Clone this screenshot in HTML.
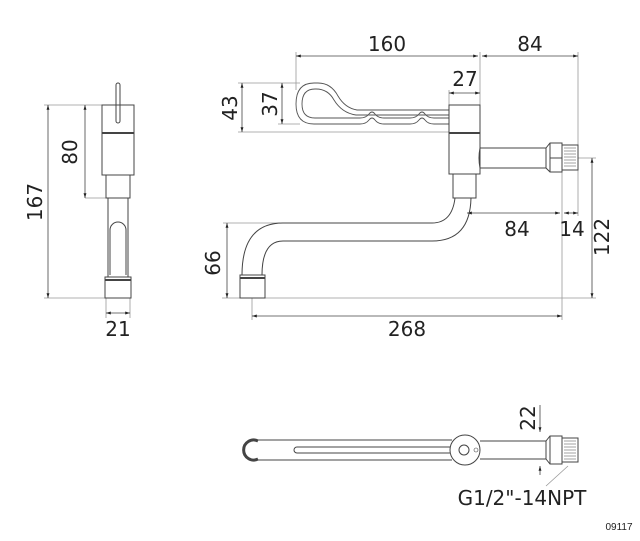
<!DOCTYPE html>
<html><head><meta charset="utf-8"><style>html,body{margin:0;padding:0;background:#fff}svg{display:block}</style></head>
<body>
<svg width="640" height="541" viewBox="0 0 640 541" xmlns="http://www.w3.org/2000/svg" font-family="'DejaVu Sans','Liberation Sans',sans-serif" fill="none">
<defs>
<marker id="a" viewBox="0 0 10 10" refX="10" refY="5" markerWidth="6" markerHeight="6" orient="auto-start-reverse"><path d="M0,2 L10,5 L0,8z" fill="#222"/></marker>
</defs>
<g stroke="#999" stroke-width="0.8">
<line x1="44" y1="105" x2="102" y2="105"/><line x1="44" y1="298" x2="105" y2="298"/>
<line x1="85" y1="198" x2="106" y2="198"/>
<line x1="106" y1="298" x2="106" y2="318"/><line x1="130" y1="298" x2="130" y2="318"/>
<line x1="296" y1="52" x2="296" y2="90"/><line x1="480" y1="52" x2="480" y2="105"/><line x1="578" y1="52" x2="578" y2="216"/>
<line x1="238" y1="83" x2="300" y2="83"/><line x1="238" y1="132" x2="449" y2="132"/><line x1="278" y1="124" x2="300" y2="124"/>
<line x1="449" y1="90" x2="449" y2="105"/>
<line x1="562" y1="172" x2="562" y2="320"/>
<line x1="578" y1="158" x2="596" y2="158"/>
<line x1="223" y1="223" x2="280" y2="223"/>
<line x1="222" y1="298" x2="596" y2="298"/>
<line x1="252" y1="298" x2="252" y2="320"/>
<line x1="568" y1="466" x2="546" y2="486"/>
</g>
<g stroke="#444" stroke-width="0.8" marker-start="url(#a)" marker-end="url(#a)">
<line x1="48" y1="105" x2="48" y2="298"/>
<line x1="85" y1="105" x2="85" y2="198"/>
<line x1="106" y1="313" x2="130" y2="313"/>
<line x1="296" y1="56" x2="478" y2="56"/>
<line x1="482" y1="56" x2="578" y2="56"/>
<line x1="242" y1="83" x2="242" y2="132"/>
<line x1="282" y1="83" x2="282" y2="124"/>
<line x1="449" y1="93" x2="480" y2="93"/>
<line x1="467" y1="213" x2="560" y2="213"/>
<line x1="564" y1="213" x2="578" y2="213"/>
<line x1="592" y1="158" x2="592" y2="298"/>
<line x1="227" y1="223" x2="227" y2="298"/>
<line x1="252" y1="316" x2="562" y2="316"/>
</g>
<g stroke="#444" stroke-width="0.8" marker-end="url(#a)">
<line x1="540" y1="405" x2="540" y2="432"/>
<line x1="540" y1="475" x2="540" y2="466"/>
</g>
<g stroke="#444" stroke-width="1">
<rect x="116" y="83" width="4" height="40" rx="2"/>
<rect x="102" y="105" width="32" height="70"/>
<line x1="102" y1="133" x2="134" y2="133" stroke-width="2"/>
<rect x="106" y="175" width="24" height="23"/>
<line x1="108" y1="198" x2="108" y2="277"/><line x1="128" y1="198" x2="128" y2="277"/>
<path d="M110,275 V230 A8,8 0 0 1 126,230 V275"/>
<rect x="105" y="277" width="26" height="21"/>
<line x1="105" y1="280" x2="131" y2="280" stroke-width="2"/>
</g>
<g stroke="#555" stroke-width="0.9">
<path d="M449,110 H357 Q345,108 338,96 Q331,83 318,83 H314 Q296,83 296,104 Q296,124 314,124 H360 Q366,124 369,120 Q372,116 375,120 Q378,124 384,124 H410 Q416,124 419,120 Q422,116 425,120 Q428,124 434,124 H449"/>
<path d="M449,115 H356 Q342,113 334,100 Q328,89 316,89 H315 Q302,89 302,104 Q302,118 315,118 H360 Q366,118 369,114 Q372,110 375,114 Q378,118 384,118 H410 Q416,118 419,114 Q422,110 425,114 Q428,118 434,118 H449"/>
</g>
<g stroke="#444" stroke-width="1">
<rect x="449" y="105" width="31" height="69"/>
<line x1="449" y1="133" x2="480" y2="133" stroke-width="2"/>
<path d="M480,148 H546 M480,168 H546 M480,148 Q478,158 480,168"/>
<path d="M546,148 L550,143 H562 V172 H550 L546,168 Z"/>
<line x1="550" y1="143" x2="550" y2="172"/><line x1="550" y1="158" x2="562" y2="158"/>
<rect x="562" y="145" width="16" height="25"/>
<path d="M564,148 H576 M564,151 H576 M564,154 H576 M564,157 H576 M564,160 H576 M564,163 H576 M564,166 H576" stroke-width="0.6"/>
<rect x="453" y="174" width="23" height="24"/>
<path d="M455,198 Q452,223 432,223 H283 Q242,223 242,275"/>
<path d="M471,198 Q470,241 432,241 H283 Q262,241 262,275"/>
<rect x="240" y="275" width="25" height="23"/>
<line x1="240" y1="278" x2="265" y2="278" stroke-width="2"/>
</g>
<g stroke="#444" stroke-width="1">
<path d="M258,441 A10,10 0 1 0 258,459" stroke-width="3"/>
<line x1="257" y1="440" x2="452" y2="440"/><line x1="257" y1="460" x2="452" y2="460"/>
<path d="M297,447 H450 M297,453 H450 M297,447 A3,3 0 0 0 297,453"/>
<circle cx="465" cy="450" r="15"/><circle cx="464" cy="450" r="5"/>
<circle cx="476" cy="450" r="2" stroke-width="0.6"/>
<line x1="480" y1="441" x2="546" y2="441"/><line x1="480" y1="459" x2="546" y2="459"/>
<path d="M546,441 L550,436 H562 V464 H550 L546,459 Z"/>
<line x1="550" y1="436" x2="550" y2="464"/>
<rect x="562" y="438" width="16" height="24"/>
<path d="M564,441 H576 M564,444 H576 M564,447 H576 M564,450 H576 M564,453 H576 M564,456 H576 M564,459 H576" stroke-width="0.6"/>
</g>
<g fill="#222" font-size="20">
<text x="387" y="51" text-anchor="middle">160</text>
<text x="530" y="51" text-anchor="middle">84</text>
<text x="465" y="86" text-anchor="middle">27</text>
<text x="517" y="236" text-anchor="middle">84</text>
<text x="572" y="236" text-anchor="middle">14</text>
<text x="407" y="336" text-anchor="middle">268</text>
<text x="118" y="336" text-anchor="middle">21</text>
<text transform="translate(237,108) rotate(-90)" text-anchor="middle">43</text>
<text transform="translate(277,104) rotate(-90)" text-anchor="middle">37</text>
<text transform="translate(77,152) rotate(-90)" text-anchor="middle">80</text>
<text transform="translate(42,202) rotate(-90)" text-anchor="middle">167</text>
<text transform="translate(220,263) rotate(-90)" text-anchor="middle">66</text>
<text transform="translate(609,237) rotate(-90)" text-anchor="middle">122</text>
<text transform="translate(535,418) rotate(-90)" text-anchor="middle">22</text>
<text x="522" y="505" text-anchor="middle">G1/2"-14NPT</text>
<text x="619" y="530" text-anchor="middle" font-size="10" font-family="'Liberation Sans',sans-serif">09117</text>
</g>
</svg>
</body></html>
